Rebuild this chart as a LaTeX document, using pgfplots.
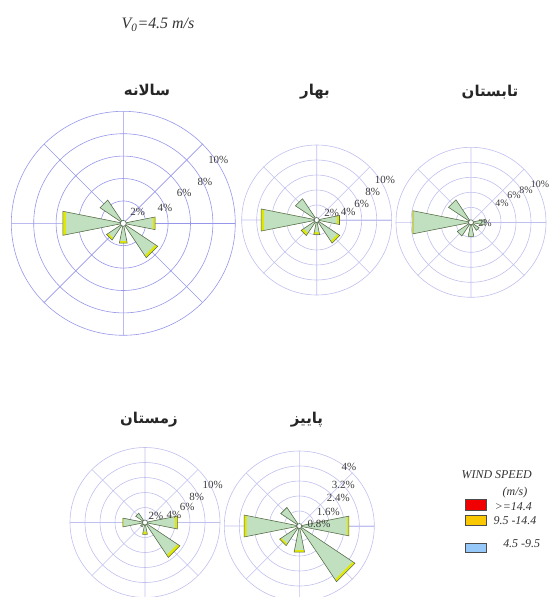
\documentclass[border=0pt]{standalone}
\usepackage{pgfplots}
\pgfplotsset{compat=1.18}
\usepackage{pgfplotstable}
\usepgfplotslibrary{polar}
\usepackage{fontspec}
\setmainfont{Liberation Serif}
\newfontfamily\arabicfont[Script=Arabic]{DejaVu Sans}
\TeXXeTstate=1
\definecolor{barfill}{RGB}{192,224,192}
\definecolor{barline}{RGB}{85,105,85}
\definecolor{band}{RGB}{225,232,0}
\definecolor{gridA}{RGB}{150,150,235}
\definecolor{gridB}{RGB}{192,192,238}
\definecolor{lbl}{RGB}{60,60,60}
\pgfplotsset{rose/.style={anchor=center, scale only axis, xmin=0, xmax=360, ymin=0,
  xtick={0,45,...,315}, xticklabels={}, yticklabels={}, grid=major, major tick length=0pt},
  gA/.style={major grid style={draw=gridA, line width=0.6bp}, axis line style={draw=gridA, line width=0.6bp}},
  gB/.style={major grid style={draw=gridB, line width=0.6bp}, axis line style={draw=gridB, line width=0.6bp}}}
% columns: a = angle (deg, math), r = percent
\pgfplotstableread{
a r
0 0
168.75 5.5
191.25 5.5
0 0
123.75 2.5
146.25 2.5
0 0
348.75 2.9
11.25 2.9
0 0
303.75 3.7
326.25 3.7
0 0
258.75 1.8
281.25 1.8
0 0
213.75 1.8
236.25 1.8
0 0
}\annF
\pgfplotstableread{
a r
0 0
168.75 5.2
191.25 5.2
0 0
123.75 2.5
146.25 2.5
0 0
348.75 2.7
11.25 2.7
0 0
303.75 3.45
326.25 3.45
0 0
258.75 1.6
281.25 1.6
0 0
213.75 1.6
236.25 1.6
0 0
}\annG
\pgfplotstableread{
a r
0 0
168.75 7.55
191.25 7.55
0 0
123.75 3.4
146.25 3.4
0 0
348.75 3.1
11.25 3.1
0 0
303.75 3.7
326.25 3.7
0 0
258.75 2.0
281.25 2.0
0 0
213.75 2.5
236.25 2.5
0 0
}\sprF
\pgfplotstableread{
a r
0 0
168.75 7.15
191.25 7.15
0 0
123.75 3.4
146.25 3.4
0 0
348.75 2.75
11.25 2.75
0 0
303.75 3.35
326.25 3.35
0 0
258.75 1.65
281.25 1.65
0 0
213.75 2.1
236.25 2.1
0 0
}\sprG
\pgfplotstableread{
a r
0 0
168.75 7.9
191.25 7.9
0 0
123.75 3.6
146.25 3.6
0 0
348.75 1.9
11.25 1.9
0 0
303.75 1.3
326.25 1.3
0 0
258.75 1.9
281.25 1.9
0 0
213.75 2.2
236.25 2.2
0 0
}\sumF
\pgfplotstableread{
a r
0 0
168.75 7.75
191.25 7.75
0 0
123.75 3.6
146.25 3.6
0 0
348.75 1.9
11.25 1.9
0 0
303.75 1.3
326.25 1.3
0 0
258.75 1.9
281.25 1.9
0 0
213.75 2.2
236.25 2.2
0 0
}\sumG
\pgfplotstableread{
a r
0 0
168.75 3.0
191.25 3.0
0 0
123.75 1.5
146.25 1.5
0 0
348.75 4.4
11.25 4.4
0 0
303.75 5.6
326.25 5.6
0 0
258.75 1.6
281.25 1.6
0 0
213.75 0.7
236.25 0.7
0 0
}\winF
\pgfplotstableread{
a r
0 0
168.75 2.9
191.25 2.9
0 0
123.75 1.5
146.25 1.5
0 0
348.75 4.05
11.25 4.05
0 0
303.75 5.2
326.25 5.2
0 0
258.75 1.25
281.25 1.25
0 0
213.75 0.7
236.25 0.7
0 0
}\winG
\pgfplotstableread{
a r
0 0
168.75 3.0
191.25 3.0
0 0
123.75 1.19
146.25 1.19
0 0
348.75 2.7
11.25 2.7
0 0
303.75 3.57
326.25 3.57
0 0
258.75 1.42
281.25 1.42
0 0
213.75 1.26
236.25 1.26
0 0
}\autF
\pgfplotstableread{
a r
0 0
168.75 2.86
191.25 2.86
0 0
123.75 1.19
146.25 1.19
0 0
348.75 2.6
11.25 2.6
0 0
303.75 3.42
326.25 3.42
0 0
258.75 1.3
281.25 1.3
0 0
213.75 1.14
236.25 1.14
0 0
}\autG
\begin{document}
\begin{tikzpicture}
% ---- annual
\begin{polaraxis}[rose, gA, at={(123.3bp,-223.3bp)}, width=224bp, height=224bp, ymax=10, ytick={2,4,6,8}]
\addplot[fill=band, draw=none] table {\annF};
\addplot[fill=barfill, draw=none] table {\annG};
\addplot[draw=barline, line width=0.55bp, fill=none] table {\annF};
\addplot[only marks, mark=*, mark size=3bp, mark options={fill=white, draw=barline, line width=0.6bp}] coordinates {(0,0)};
\end{polaraxis}
% ---- spring
\begin{polaraxis}[rose, gB, at={(316.7bp,-220bp)}, width=150bp, height=150bp, ymax=10, ytick={2,4,6,8}]
\addplot[fill=band, draw=none] table {\sprF};
\addplot[fill=barfill, draw=none] table {\sprG};
\addplot[draw=barline, line width=0.55bp, fill=none] table {\sprF};
\addplot[only marks, mark=*, mark size=2.5bp, mark options={fill=white, draw=barline, line width=0.6bp}] coordinates {(0,0)};
\end{polaraxis}
% ---- summer
\begin{polaraxis}[rose, gB, at={(471bp,-222.3bp)}, width=150bp, height=150bp, ymax=10, ytick={2,4,6,8}]
\addplot[fill=band, draw=none] table {\sumF};
\addplot[fill=barfill, draw=none] table {\sumG};
\addplot[draw=barline, line width=0.55bp, fill=none] table {\sumF};
\addplot[only marks, mark=*, mark size=2.5bp, mark options={fill=white, draw=barline, line width=0.6bp}] coordinates {(0,0)};
\end{polaraxis}
% ---- winter
\begin{polaraxis}[rose, gB, at={(145bp,-522.5bp)}, width=150bp, height=150bp, ymax=10, ytick={2,4,6,8}]
\addplot[fill=band, draw=none] table {\winF};
\addplot[fill=barfill, draw=none] table {\winG};
\addplot[draw=barline, line width=0.55bp, fill=none] table {\winF};
\addplot[only marks, mark=*, mark size=2.5bp, mark options={fill=white, draw=barline, line width=0.6bp}] coordinates {(0,0)};
\end{polaraxis}
% ---- autumn
\begin{polaraxis}[rose, gB, at={(299.3bp,-526bp)}, width=150bp, height=150bp, ymax=4, ytick={0.8,1.6,2.4,3.2}]
\addplot[fill=band, draw=none] table {\autF};
\addplot[fill=barfill, draw=none] table {\autG};
\addplot[draw=barline, line width=0.55bp, fill=none] table {\autF};
\addplot[only marks, mark=*, mark size=2.5bp, mark options={fill=white, draw=barline, line width=0.6bp}] coordinates {(0,0)};
\end{polaraxis}
\begin{scope}[x=1bp, y=-1bp]
\node[font=\fontsize{16}{19}\selectfont\itshape, text=black!80] at (158,25) {V\textsubscript{0}=4.5 m/s};
\tikzset{ttl/.style={font=\arabicfont\bfseries\fontsize{15}{17}\selectfont, text=black!85}}
\node[ttl] at (147,90) {\beginR سالانه\endR};
\node[ttl] at (315,92) {\beginR بهار\endR};
\node[ttl] at (490,92) {\beginR تابستان\endR};
\node[ttl] at (149,420) {\beginR زمستان\endR};
\node[ttl] at (307,420) {\beginR پاییز\endR};
\tikzset{pl/.style={font=\fontsize{11}{12}\selectfont, text=lbl, inner sep=0pt}}
% annual
\node[pl] at (218.3,160) {10\%};
\node[pl] at (205,181.7) {8\%};
\node[pl] at (184.3,193.3) {6\%};
\node[pl] at (165,208.3) {4\%};
\node[pl] at (137.7,211.7) {2\%};
% spring
\node[pl] at (385,180) {10\%};
\node[pl] at (372.7,191.7) {8\%};
\node[pl] at (361.7,204) {6\%};
\node[pl] at (348.3,212.3) {4\%};
\node[pl] at (331.7,212.7) {2\%};
% summer
\node[pl, font=\fontsize{10}{11}\selectfont] at (540,184) {10\%};
\node[pl, font=\fontsize{10}{11}\selectfont] at (526,190) {8\%};
\node[pl, font=\fontsize{10}{11}\selectfont] at (514,195) {6\%};
\node[pl, font=\fontsize{10}{11}\selectfont] at (502,203) {4\%};
\node[pl, font=\fontsize{10}{11}\selectfont] at (485,223) {2\%};
% winter
\node[pl] at (212.7,485) {10\%};
\node[pl] at (196.7,496.7) {8\%};
\node[pl] at (187.3,507.3) {6\%};
\node[pl] at (174,515) {4\%};
\node[pl] at (156,515.7) {2\%};
% autumn
\node[pl] at (349,467.3) {4\%};
\node[pl] at (343.3,485) {3.2\%};
\node[pl] at (338.3,498.3) {2.4\%};
\node[pl] at (328.3,511.7) {1.6\%};
\node[pl] at (319,524) {0.8\%};
% legend
\tikzset{lg/.style={font=\fontsize{12}{14}\selectfont\itshape, text=black!80, inner sep=0pt}}
\node[lg] at (496.7,475) {WIND SPEED};
\node[lg] at (515,493) {(m/s)};
\draw[fill={rgb,255:red,240;green,0;blue,0}, draw=black!70, line width=0.5bp] (465,499.5) rectangle (486.7,510);
\node[lg] at (513.3,506.7) {>=14.4};
\draw[fill={rgb,255:red,250;green,200;blue,0}, draw=black!70, line width=0.5bp] (465,515) rectangle (486.7,525);
\node[lg] at (515,520.7) {9.5 -14.4};
\draw[fill={rgb,255:red,150;green,200;blue,250}, draw=black!70, line width=0.5bp] (465,543.5) rectangle (486.7,552);
\node[lg] at (521.7,543.3) {4.5 -9.5};
\end{scope}
\pgfresetboundingbox
\path (0bp,0bp) rectangle (550bp,-597bp);
\end{tikzpicture}
\end{document}
